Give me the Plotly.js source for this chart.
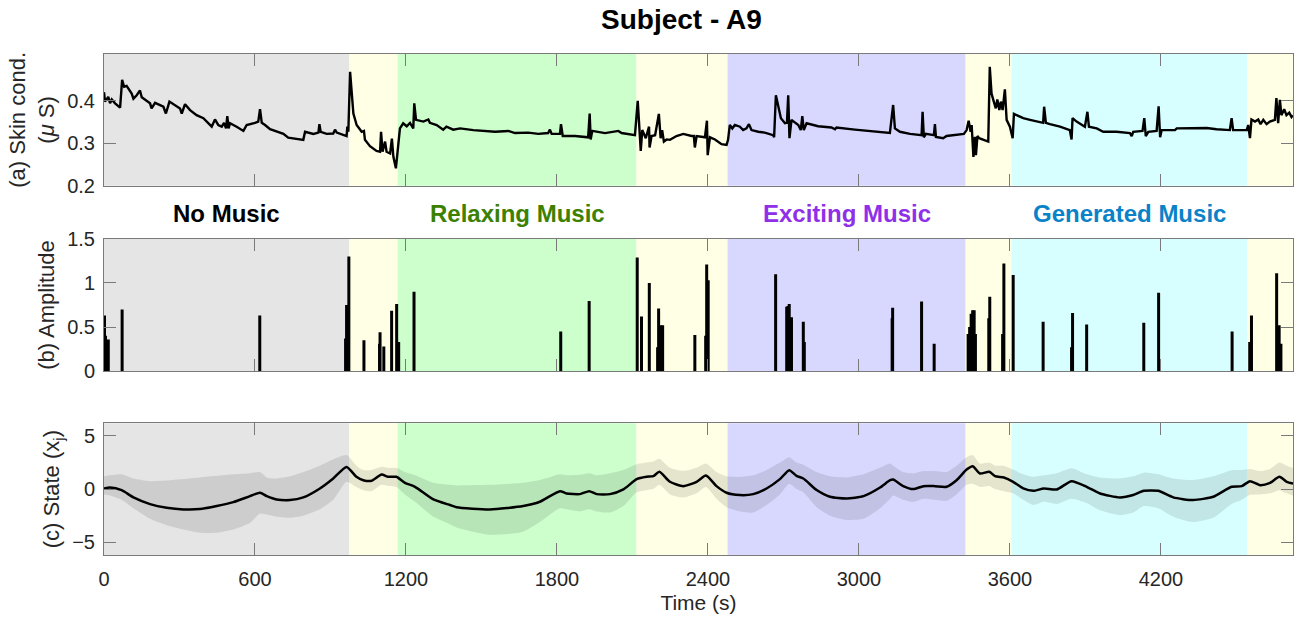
<!DOCTYPE html>
<html>
<head>
<meta charset="utf-8">
<script src="https://cdn.plot.ly/plotly-3.0.1.min.js"></script>
<style>html,body{margin:0;padding:0;background:#fff;}#chart{width:1304px;height:618px;}</style>
</head>
<body>
<div id="chart"></div>
<script>
// ---------- DATA ----------
const regionStart = [0, 975, 1167, 2116, 2478, 3424, 3606, 4544];
const regionEnd   = [975, 1167, 2116, 2478, 3424, 3606, 4544, 4725];
const regionColor = ['#e5e5e5', '#ffffe5', '#ccffcc', '#ffffe5', '#d8d8ff', '#ffffe5', '#d8ffff', '#ffffe5'];

const musicLabels = ['No Music', 'Relaxing Music', 'Exciting Music', 'Generated Music'];
const musicRegion = [0, 2, 4, 6];
const musicColor  = ['#000000', '#3c8000', '#8f2fe8', '#0a82c8'];

const xTickVals = [0, 600, 1200, 1800, 2400, 3000, 3600, 4200];

// (a) skin conductance
const condT = [0,4,17,24,31,44,64,72,80,90,110,117,130,143,150,183,189,203,236,246,260,302,309,322,342,368,395,421,428,441,454,468,477,485,490,495,501,527,554,567,587,600,613,620,627,640,660,686,713,732,766,792,799,832,852,856,861,885,911,918,925,951,964,967,971,978,984,991,1004,1024,1033,1037,1057,1083,1097,1101,1107,1117,1123,1137,1144,1150,1160,1170,1176,1189,1203,1216,1229,1233,1240,1269,1289,1295,1322,1348,1361,1388,1415,1468,1554,1607,1633,1686,1726,1765,1772,1779,1812,1816,1823,1872,1924,1930,1934,1940,1991,2044,2057,2110,2121,2126,2133,2139,2153,2166,2168,2176,2190,2205,2212,2218,2225,2236,2249,2275,2302,2335,2344,2348,2355,2388,2396,2399,2408,2428,2454,2474,2480,2487,2497,2507,2527,2540,2553,2563,2573,2600,2626,2659,2663,2670,2679,2690,2706,2714,2719,2724,2732,2759,2769,2775,2781,2792,2838,2891,2905,2911,2984,3050,3123,3136,3143,3163,3203,3249,3253,3258,3266,3298,3302,3306,3335,3348,3388,3417,3428,3436,3444,3448,3455,3461,3465,3471,3478,3514,3520,3527,3536,3544,3550,3558,3564,3571,3580,3587,3600,3611,3616,3633,3653,3680,3712,3732,3736,3743,3759,3799,3838,3845,3849,3865,3898,3908,3914,3945,3971,4024,4077,4084,4090,4127,4134,4140,4150,4183,4191,4197,4203,4256,4263,4315,4382,4421,4474,4481,4487,4541,4547,4554,4560,4574,4587,4596,4607,4620,4633,4653,4659,4666,4673,4679,4690,4699,4710,4719,4724];
const condV = [0.420,0.398,0.409,0.394,0.403,0.394,0.384,0.449,0.433,0.435,0.417,0.405,0.413,0.424,0.408,0.394,0.382,0.395,0.386,0.370,0.398,0.382,0.370,0.392,0.378,0.366,0.359,0.343,0.339,0.356,0.343,0.339,0.348,0.335,0.364,0.335,0.347,0.339,0.329,0.343,0.345,0.348,0.351,0.380,0.348,0.343,0.333,0.327,0.322,0.313,0.311,0.308,0.327,0.322,0.325,0.345,0.327,0.322,0.323,0.332,0.325,0.319,0.317,0.339,0.327,0.468,0.425,0.370,0.343,0.327,0.329,0.308,0.293,0.282,0.280,0.327,0.280,0.304,0.280,0.276,0.311,0.268,0.241,0.300,0.335,0.347,0.340,0.348,0.335,0.394,0.355,0.351,0.356,0.348,0.343,0.332,0.339,0.332,0.335,0.331,0.327,0.329,0.324,0.325,0.322,0.324,0.332,0.322,0.322,0.345,0.317,0.317,0.314,0.370,0.309,0.329,0.324,0.329,0.324,0.319,0.400,0.351,0.282,0.331,0.312,0.339,0.290,0.317,0.319,0.369,0.312,0.331,0.304,0.309,0.308,0.317,0.322,0.317,0.317,0.290,0.317,0.314,0.353,0.272,0.314,0.309,0.298,0.296,0.308,0.343,0.335,0.343,0.339,0.331,0.335,0.345,0.331,0.327,0.325,0.319,0.314,0.413,0.386,0.359,0.347,0.348,0.413,0.312,0.355,0.343,0.331,0.364,0.331,0.347,0.340,0.337,0.333,0.337,0.332,0.329,0.324,0.390,0.335,0.327,0.322,0.319,0.374,0.314,0.322,0.319,0.345,0.315,0.312,0.317,0.319,0.322,0.331,0.353,0.327,0.343,0.268,0.315,0.272,0.317,0.312,0.304,0.480,0.417,0.398,0.382,0.403,0.378,0.398,0.378,0.427,0.355,0.339,0.312,0.369,0.364,0.359,0.355,0.351,0.348,0.386,0.348,0.345,0.339,0.331,0.309,0.359,0.351,0.339,0.374,0.339,0.335,0.327,0.327,0.324,0.317,0.327,0.329,0.359,0.317,0.327,0.329,0.387,0.314,0.331,0.331,0.335,0.336,0.336,0.333,0.331,0.359,0.331,0.331,0.343,0.312,0.356,0.351,0.356,0.345,0.355,0.345,0.351,0.355,0.406,0.347,0.402,0.366,0.380,0.366,0.372,0.362,0.366];

// (b) amplitude spikes
const spikeT = [2,6,17,72,619,960,964,973,1033,1095,1097,1112,1143,1163,1171,1232,1815,1928,2119,2136,2167,2200,2204,2212,2220,2348,2391,2395,2401,2669,2713,2718,2723,2732,2779,2783,3132,3134,3249,3299,3434,3440,3446,3452,3458,3463,3516,3520,3571,3576,3613,3732,3845,3849,3905,4132,4191,4483,4553,4560,4660,4670,4677];
const spikeA = [0.63,0.40,0.36,0.70,0.63,0.37,0.75,1.30,0.35,0.31,0.44,0.28,0.685,0.76,0.33,0.90,0.45,0.795,1.29,0.62,1.00,0.27,0.71,0.52,0.52,0.41,0.40,1.21,1.03,1.10,0.73,0.74,0.76,0.61,0.56,0.33,0.60,0.72,0.79,0.31,0.42,0.50,0.65,0.69,0.69,0.42,0.60,0.845,0.42,1.22,1.09,0.56,0.27,0.66,0.53,0.55,0.89,0.45,0.33,0.63,1.11,0.52,0.31];

// (c) state estimate with bounds
const stateT = [0,24,70,117,183,249,315,381,448,514,580,620,647,686,739,792,858,911,964,1003,1030,1063,1103,1129,1162,1196,1236,1309,1375,1401,1534,1666,1732,1812,1838,1891,1928,1958,2011,2064,2117,2156,2183,2207,2249,2302,2355,2392,2434,2474,2527,2580,2633,2686,2723,2752,2779,2832,2885,2951,3018,3084,3124,3136,3176,3216,3256,3302,3348,3388,3428,3452,3481,3518,3541,3576,3613,3653,3693,3735,3786,3845,3905,3958,4037,4090,4132,4189,4249,4328,4408,4481,4521,4554,4594,4634,4671,4700,4725];
const stateMean = [0.06,0.15,-0.10,-0.78,-1.41,-1.75,-1.91,-1.88,-1.59,-1.22,-0.66,-0.34,-0.66,-0.97,-1.03,-0.78,0.06,1.00,2.09,1.16,0.84,0.78,1.38,1.16,1.16,0.59,0.22,-0.97,-1.50,-1.70,-1.91,-1.59,-1.19,-0.19,-0.41,-0.47,-0.19,-0.47,-0.47,-0.03,0.94,1.16,1.22,1.63,0.69,0.28,0.69,1.28,0.28,-0.34,-0.56,-0.47,0.06,0.94,1.78,1.25,1.00,-0.09,-0.72,-0.88,-0.66,0.15,0.84,0.90,0.28,0.00,0.28,0.28,0.22,0.84,1.84,2.16,1.47,1.63,1.22,1.09,0.69,0.06,-0.16,0.06,-0.03,0.75,0.22,-0.41,-0.78,-0.56,-0.16,-0.16,-0.78,-1.03,-0.72,0.22,0.28,0.75,0.37,0.59,1.16,0.69,0.53];
const stateUpper = [1.2,1.3,1.4,1.0,0.75,0.8,0.95,1.1,1.25,1.4,1.5,1.6,1.1,1.0,1.2,1.6,2.2,2.8,3.2,2.2,1.8,1.8,2.1,2.0,2.0,1.6,1.3,0.6,0.4,0.35,0.4,0.6,0.85,1.4,1.3,1.35,1.5,1.3,1.5,1.8,2.35,2.5,2.6,2.85,2.0,1.7,2.0,2.4,1.6,1.2,1.15,1.3,1.8,2.5,3.0,2.5,2.3,1.6,1.2,1.1,1.4,2.0,2.4,2.2,1.6,1.47,1.7,1.7,1.6,2.2,3.0,3.2,2.4,2.5,2.2,2.2,1.84,1.4,1.16,1.3,1.5,1.97,1.4,1.1,1.0,1.2,1.55,1.4,1.0,0.85,1.2,1.78,1.8,1.9,1.7,1.9,2.5,2.2,2.0];
const stateLower = [-0.5,-0.6,-1.0,-1.8,-2.8,-3.4,-3.8,-4.1,-4.1,-3.8,-3.2,-2.3,-2.4,-2.6,-2.7,-2.5,-1.9,-1.0,0.7,0.2,-0.1,-0.2,0.4,0.3,0.2,-0.5,-1.2,-2.6,-3.3,-3.6,-4.3,-4.0,-3.1,-1.8,-1.9,-2.1,-1.9,-2.1,-2.2,-1.6,-0.3,-0.1,0.0,0.4,-0.5,-0.8,-0.4,0.2,-0.9,-1.7,-2.1,-2.2,-1.5,-0.5,0.5,0.0,-0.3,-1.7,-2.5,-2.9,-2.8,-1.8,-0.9,-0.6,-1.0,-1.2,-0.9,-1.0,-1.1,-0.5,0.4,0.5,0.2,0.3,0.0,-0.2,-0.4,-1.0,-1.5,-1.2,-1.4,-0.9,-1.3,-2.0,-2.45,-2.2,-1.6,-1.8,-2.6,-3.1,-2.7,-1.4,-1.0,-0.55,-0.5,-0.4,-0.1,-0.4,-0.6];

// ---------- BUILD ----------
const FONT = 'Liberation Sans, Arial, Helvetica, sans-serif';
const AX = '#7a7a7a';
const X_MAX = 4725;

const spikeX = [], spikeY = [];
spikeT.forEach((t, i) => { spikeX.push(t, t, null); spikeY.push(0, spikeA[i], null); });

const traces = [
  {x: condT, y: condV, xaxis: 'x', yaxis: 'y', type: 'scatter', mode: 'lines',
   line: {color: '#000', width: 2.4}, hoverinfo: 'skip'},
  {x: spikeX, y: spikeY, xaxis: 'x2', yaxis: 'y2', type: 'scatter', mode: 'lines',
   line: {color: '#000', width: 3}, hoverinfo: 'skip'},
  {x: stateT, y: stateLower, xaxis: 'x3', yaxis: 'y3', type: 'scatter', mode: 'lines',
   line: {width: 0, color: 'rgba(0,0,0,0)', shape: 'spline', smoothing: 0.6}, hoverinfo: 'skip'},
  {x: stateT, y: stateUpper, xaxis: 'x3', yaxis: 'y3', type: 'scatter', mode: 'lines',
   fill: 'tonexty', fillcolor: 'rgba(0,0,0,0.1)',
   line: {width: 0, color: 'rgba(0,0,0,0)', shape: 'spline', smoothing: 0.6}, hoverinfo: 'skip'},
  {x: stateT, y: stateMean, xaxis: 'x3', yaxis: 'y3', type: 'scatter', mode: 'lines',
   line: {color: '#000', width: 2.5, shape: 'spline', smoothing: 0.6}, hoverinfo: 'skip'}
];

const shapes = [];
['', '2', '3'].forEach(s => {
  regionStart.forEach((x0, i) => {
    shapes.push({type: 'rect', xref: 'x' + s, yref: 'y' + s + ' domain', x0: x0, x1: regionEnd[i],
      y0: 0, y1: 1, fillcolor: regionColor[i], line: {width: 0}, layer: 'below'});
  });
});

function xax(showLabels) {
  return {domain: [0, 1], range: [0, X_MAX], tickvals: xTickVals, ticks: 'inside', ticklen: 12,
    tickcolor: AX, showline: true, linecolor: AX, linewidth: 1, mirror: 'ticks', showgrid: false,
    zeroline: false, showticklabels: showLabels, ticklabelstandoff: 6,
    tickfont: {family: FONT, size: 20, color: '#262626'}};
}
function yax(dom, range, tv, title, anchor) {
  return {domain: dom, range: range, tickvals: tv, ticks: 'inside', ticklen: 12, tickcolor: AX,
    showline: true, linecolor: AX, linewidth: 1, mirror: 'ticks', showgrid: false, zeroline: false,
    anchor: anchor, ticklabelstandoff: 4,
    tickfont: {family: FONT, size: 20, color: '#262626'},
    title: {text: title, font: {family: FONT, size: 22, color: '#262626'}, standoff: 6}};
}

const xa1 = xax(false); xa1.anchor = 'y';
const xa2 = xax(false); xa2.anchor = 'y2';
const xa3 = xax(true);  xa3.anchor = 'y3';
xa3.title = {text: 'Time (s)', font: {family: FONT, size: 21, color: '#262626'}, standoff: 6};

const annotations = [
  {text: '<b>Subject - A9</b>', xref: 'paper', yref: 'paper', x: 0.486, y: 1.068,
   xanchor: 'center', yanchor: 'middle', showarrow: false, font: {family: FONT, size: 28, color: '#000'}}
];
musicLabels.forEach((lab, i) => {
  const r = musicRegion[i];
  annotations.push({text: '<b>' + lab + '</b>', xref: 'x2', yref: 'paper',
    x: (regionStart[r] + regionEnd[r]) / 2, y: 0.681, xanchor: 'center', yanchor: 'middle',
    showarrow: false, font: {family: FONT, size: 24, color: musicColor[i]}});
});

const layout = {
  width: 1304, height: 618,
  margin: {l: 104, r: 11, t: 54, b: 63},
  paper_bgcolor: '#fff', plot_bgcolor: '#fff',
  showlegend: false,
  xaxis: xa1, xaxis2: xa2, xaxis3: xa3,
  yaxis: yax([0.737, 1.0], [0.2, 0.51], [0.2, 0.3, 0.4], '(a) Skin cond.<br>(<i>μ</i> S)', 'x'),
  yaxis2: yax([0.367, 0.631], [0, 1.5], [0, 0.5, 1, 1.5], '(b) Amplitude', 'x2'),
  yaxis3: yax([0, 0.263], [-6.2, 6.2], [-5, 0, 5], '(c) State (x<sub>j</sub>)', 'x3'),
  shapes: shapes,
  annotations: annotations
};

Plotly.newPlot('chart', traces, layout, {displayModeBar: false, staticPlot: true});
</script>
</body>
</html>
